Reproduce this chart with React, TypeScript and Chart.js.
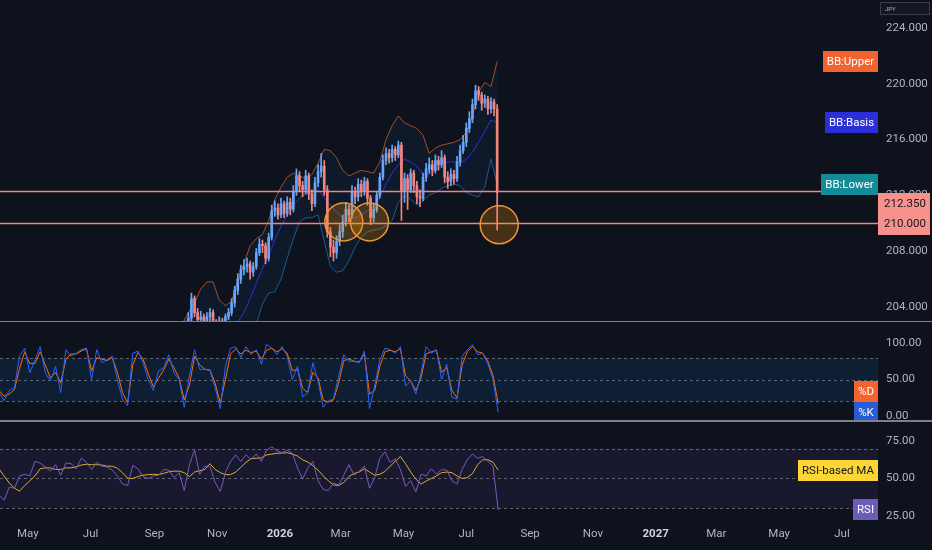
import { useEffect, useRef } from "react";
import { Chart, registerables } from "chart.js";

Chart.register(...registerables);

// ---------- data ----------
const BASE = Date.UTC(2025, 4, 1);
const dayOf = (s: string) => {
  const [y, m, d] = s.split("-").map(Number);
  return (Date.UTC(y, m - 1, d) - BASE) / 86400000;
};

const xRange = ["2025-04-04", "2027-08-05"];

const monthTickDates = [
  "2025-05-01", "2025-07-01", "2025-09-01", "2025-11-01", "2026-01-01", "2026-03-01", "2026-05-01",
  "2026-07-01", "2026-09-01", "2026-11-01", "2027-01-01", "2027-03-01", "2027-05-01", "2027-07-01",
];
const monthTickLabels = ["May", "Jul", "Sep", "Nov", "2026", "Mar", "May", "Jul", "Sep", "Nov", "2027", "Mar", "May", "Jul"];

// daily-ish candles (3-day bars)
const candleStart = "2025-10-01";
const candleStepDays = 3;
const firstOpen = 202.3;
const closes = [
  202.6, 203.2, 204.6, 203.6, 203.1, 203.3, 202.9, 203.3, 203.6, 202.9,
  202.7, 203.0, 202.8, 203.3, 203.6, 204.3, 205.2, 206.0, 206.7, 206.9,
  207.1, 206.5, 206.9, 207.9, 208.5, 208.4, 207.5, 209.0, 210.9, 211.1,
  210.6, 211.4, 210.7, 211.5, 211.0, 212.3, 213.4, 212.7, 212.4, 213.4,
  212.1, 211.4, 212.9, 213.7, 214.1, 212.4, 209.4, 208.3, 207.9, 208.7,
  209.4, 210.1, 211.0, 210.6, 212.3, 211.9, 212.8, 212.3, 213.0, 211.8,
  210.4, 211.0, 212.0, 213.3, 214.5, 215.0, 214.7, 215.3, 214.9, 215.6,
  212.3, 213.2, 212.4, 213.6, 212.7, 211.9, 211.8, 213.3, 213.9, 214.2,
  213.8, 214.5, 214.2, 214.7, 213.3, 213.0, 213.5, 213.2, 214.4, 215.2,
  215.8, 216.8, 217.5, 218.5, 219.5, 219.2, 218.6, 218.9, 218.2, 218.7,
  218.2, 212.2,
];
const highs = [
  203.0, 203.6, 205.0, 204.8, 203.9, 203.7, 203.5, 203.6, 203.9, 203.8,
  203.1, 203.3, 203.2, 203.5, 203.9, 204.6, 205.5, 206.4, 207.0, 207.4,
  207.5, 207.3, 207.2, 208.2, 208.9, 208.8, 208.6, 209.3, 211.3, 211.6,
  211.4, 211.8, 211.6, 211.9, 211.8, 212.7, 213.9, 213.7, 213.0, 213.8,
  213.6, 212.4, 213.3, 214.2, 215.0, 214.5, 212.7, 209.7, 208.8, 209.1,
  209.9, 210.6, 211.5, 211.3, 212.7, 212.6, 213.2, 213.1, 213.3, 213.2,
  212.0, 211.4, 212.3, 213.6, 214.9, 215.4, 215.3, 215.6, 215.5, 215.9,
  215.8, 213.6, 213.5, 213.9, 213.8, 213.0, 212.4, 213.6, 214.3, 214.7,
  214.5, 214.9, 214.8, 215.2, 214.9, 213.7, 213.9, 213.8, 214.8, 215.6,
  216.3, 217.2, 218.0, 218.9, 219.9, 219.8, 219.4, 219.2, 219.1, 219.0,
  218.9, 218.5,
];
const lows = [
  202.0, 202.4, 203.0, 203.3, 202.8, 202.8, 202.5, 202.7, 203.0, 202.6,
  202.4, 202.5, 202.5, 202.6, 203.1, 203.4, 204.0, 204.9, 205.7, 206.3,
  206.5, 206.0, 206.2, 206.7, 207.7, 207.9, 207.1, 207.3, 208.8, 210.5,
  210.3, 210.4, 210.4, 210.5, 210.6, 210.8, 212.0, 212.3, 211.9, 212.1,
  211.7, 210.9, 211.2, 212.6, 213.3, 212.0, 209.0, 207.6, 207.3, 207.5,
  208.4, 209.0, 209.8, 210.1, 210.4, 211.4, 211.6, 211.9, 212.0, 211.3,
  209.9, 210.1, 210.8, 211.8, 213.1, 214.2, 214.3, 214.4, 214.5, 214.7,
  210.2, 211.5, 211.0, 212.2, 212.2, 211.4, 211.2, 211.6, 213.0, 213.6,
  213.4, 213.6, 213.8, 214.0, 212.9, 212.5, 212.7, 212.8, 213.0, 214.1,
  215.0, 215.5, 216.5, 217.2, 218.2, 218.8, 218.1, 218.3, 217.8, 217.9,
  217.7, 209.5,
];

// Bollinger bands (6-day samples)
const bbStart = "2025-09-28";
const bbStepDays = 6;
const bbUpper = [
  202.8, 203.6, 204.3, 205.3, 205.8, 205.8, 204.5, 204.1, 204.4, 205.9,
  207.1, 208.4, 208.9, 209.2, 210.2, 211.7, 212.6, 213.3, 213.6, 213.4,
  213.2, 213.5, 214.3, 215.3, 215.2, 214.7, 213.8, 213.4, 213.6, 213.8,
  213.7, 213.6, 214.4, 216.0, 217.0, 217.7, 217.2, 217.0, 216.8, 216.3,
  215.0, 215.4, 215.6, 215.7, 215.8, 216.0, 216.5, 217.7, 219.4, 220.1,
  219.8, 221.6,
];
const bbBasis = [
  199.0, 199.5, 200.0, 200.8, 201.2, 201.6, 202.0, 202.3, 202.6, 202.9,
  203.6, 204.6, 205.7, 206.8, 207.7, 208.8, 209.8, 210.6, 211.3, 211.8,
  212.1, 212.3, 212.4, 211.8, 211.3, 210.8, 210.4, 210.2, 210.4, 210.6,
  210.9, 211.2, 211.9, 212.8, 213.6, 214.2, 214.6, 214.4, 214.1, 213.5,
  213.5, 213.8, 214.2, 214.4, 214.4, 214.3, 214.6, 215.1, 215.8, 216.6,
  217.4, 217.2,
];
const bbLower = [
  195.0, 195.5, 196.0, 196.5, 197.0, 197.5, 199.5, 200.5, 200.8, 200.2,
  200.5, 201.5, 202.8, 204.2, 205.0, 205.1, 206.0, 207.5, 208.9, 210.1,
  210.4, 210.4, 210.6, 208.7, 206.9, 206.5, 206.6, 207.3, 208.3, 209.0,
  209.4, 209.5, 209.6, 209.8, 210.2, 211.5, 212.0, 211.7, 211.3, 211.6,
  212.0, 212.2, 212.5, 212.7, 212.8, 212.7, 212.2, 212.0, 211.9, 212.6,
  214.6, 212.8,
];

// oscillators (5-day samples)
const oscStart = "2025-04-03";
const oscStepDays = 5;
const stochK = [
  32, 21, 35, 39, 82, 93, 59, 77, 95, 59,
  48, 68, 32, 91, 82, 86, 91, 93, 50, 91,
  73, 77, 82, 50, 23, 14, 86, 89, 73, 50,
  35, 62, 66, 84, 59, 50, 12, 55, 91, 64,
  64, 62, 39, 10, 68, 93, 95, 80, 95, 84,
  91, 71, 98, 93, 84, 95, 82, 50, 68, 26,
  32, 73, 48, 12, 21, 23, 55, 84, 75, 75,
  73, 89, 10, 41, 77, 93, 91, 86, 95, 41,
  48, 30, 59, 95, 86, 91, 50, 71, 26, 23,
  82, 91, 98, 84, 86, 71, 50, 5,
];
const stochD = [
  35, 27, 30, 36, 65, 88, 72, 72, 88, 70,
  52, 60, 45, 78, 85, 85, 89, 92, 62, 80,
  78, 76, 80, 60, 32, 18, 70, 87, 78, 58,
  40, 52, 63, 78, 66, 52, 22, 42, 82, 70,
  64, 63, 45, 18, 50, 85, 92, 85, 90, 87,
  89, 78, 90, 93, 88, 92, 86, 62, 64, 38,
  32, 60, 52, 22, 19, 22, 45, 76, 78, 75,
  74, 85, 30, 35, 68, 88, 90, 88, 92, 55,
  48, 35, 52, 85, 88, 90, 60, 66, 35, 25,
  70, 88, 95, 88, 86, 75, 55, 17,
];
const rsi = [
  38.8, 35.6, 44.2, 43.5, 51.7, 52.8, 51.7, 61.4, 60.3, 57.7,
  54.9, 59.2, 52.2, 60.3, 59.9, 56.5, 63.5, 60.8, 56.0, 60.8,
  58.2, 57.7, 55.6, 51.7, 46.3, 45.3, 58.6, 56.5, 51.3, 50.0,
  51.7, 52.2, 56.0, 55.6, 50.6, 53.9, 42.0, 59.2, 69.0, 52.8,
  58.2, 58.2, 47.4, 41.4, 53.9, 61.4, 65.7, 61.4, 65.7, 62.9,
  66.3, 61.4, 68.9, 71.1, 68.5, 67.2, 68.9, 66.8, 57.1, 49.6,
  57.1, 61.4, 48.5, 42.7, 42.0, 47.0, 45.7, 52.2, 59.2, 52.2,
  54.9, 58.2, 43.5, 50.6, 63.5, 67.8, 60.8, 62.9, 56.0, 44.8,
  48.5, 41.0, 52.8, 51.7, 56.5, 52.8, 56.0, 55.6, 48.5, 46.3,
  56.0, 62.5, 66.3, 63.5, 64.6, 61.4, 58.2, 29.1,
];
const rsiMA = [
  56.5, 51.7, 47.0, 43.5, 41.6, 45.3, 48.5, 51.7, 56.5, 57.1,
  57.1, 56.0, 56.0, 57.1, 57.1, 57.7, 59.0, 59.5, 59.2, 59.2,
  59.0, 58.2, 58.2, 56.9, 53.9, 50.2, 50.0, 51.3, 52.2, 52.6,
  52.8, 52.6, 53.4, 54.5, 54.9, 54.9, 53.9, 51.3, 54.3, 55.2,
  56.0, 59.9, 56.0, 53.9, 52.6, 52.6, 54.3, 57.5, 60.8, 63.3,
  63.5, 63.8, 65.7, 66.3, 66.8, 67.0, 67.2, 66.3, 65.0, 62.5,
  61.0, 58.6, 55.6, 51.7, 48.5, 45.7, 45.3, 47.4, 51.3, 53.4,
  54.3, 56.5, 54.3, 52.2, 52.8, 54.7, 58.2, 61.4, 64.6, 59.9,
  54.3, 49.6, 46.3, 48.3, 50.0, 51.7, 53.9, 54.3, 53.9, 51.7,
  50.0, 50.6, 53.2, 59.2, 62.5, 62.5, 60.8, 55.6,
];

const priceTicks = [204, 208, 212, 216, 220, 224];
const priceRange = [203, 226];
const stochTicks = [0, 50, 100];
const stochRange = [-5.5, 128.8];
const stochLevels = [80, 50, 20];
const rsiTicks = [25, 50, 75];
const rsiRange = [22.33, 87.67];
const rsiLevels = [70, 50, 30];

const hLevels = [212.35, 210.0];
const circleDates = ["2026-03-04", "2026-03-29", "2026-08-02"];
const circlePrices = [210.1, 210.1, 209.9];

// ---------- style ----------
const BG = "#0d121d";
const TEXT = "#b2b5be";
const FONT = 'Roboto, "Liberation Sans", sans-serif';
const UP = "#6aa4f8";
const DOWN = "#f3857f";
const SEP = "#7d808a";

const last = (a: number[]) => a[a.length - 1];
const grid = (start: string, step: number, vals: number[]) =>
  vals.map((v, i) => ({ x: dayOf(start) + i * step, y: v }));

const X_MIN = dayOf(xRange[0]);
const X_MAX = dayOf(xRange[1]);

function labelBox(ctx: CanvasRenderingContext2D, text: string, right: number, cy: number, bg: string, fg: string) {
  ctx.save();
  ctx.font = `11.5px ${FONT}`;
  const w = Math.round(ctx.measureText(text).width + 8);
  const h = 21;
  ctx.fillStyle = bg;
  ctx.fillRect(right - w, Math.round(cy - h / 2), w, h);
  ctx.fillStyle = fg;
  ctx.textAlign = "center";
  ctx.textBaseline = "middle";
  ctx.fillText(text, right - w / 2, Math.round(cy - h / 2) + h / 2 + 0.5);
  ctx.restore();
}

function yAxis(range: number[], ticks: number[], decimals: number) {
  return {
    position: "right",
    min: range[0],
    max: range[1],
    grid: { display: false, drawTicks: false },
    border: { display: false },
    ticks: {
      padding: 8,
      color: TEXT,
      font: { family: FONT, size: 11.5 },
      callback: (v: any) => Number(v).toFixed(decimals),
    },
    afterBuildTicks: (s: any) => {
      s.ticks = ticks.map((v) => ({ value: v }));
    },
    afterFit: (s: any) => {
      s.width = 54;
      s.paddingTop = 0;
      s.paddingBottom = 0;
    },
  };
}

const hiddenX = { type: "linear", min: X_MIN, max: X_MAX, display: false, offset: false, grid: { offset: false } };

const commonOpts = {
  responsive: false,
  maintainAspectRatio: false,
  animation: false,
  events: [],
  layout: { padding: 0 },
  plugins: { legend: { display: false }, tooltip: { enabled: false } },
};

function mainConfig(): any {
  const days = closes.map((_, i) => dayOf(candleStart) + i * candleStepDays);
  const opens = closes.map((_, i) => (i === 0 ? firstOpen : closes[i - 1]));
  const wicks = closes.map((c, i) => ({ x: days[i], y: [lows[i], highs[i]], up: c >= opens[i] }));
  const bodies = closes.map((c, i) => ({ x: days[i], y: [opens[i], c], up: c >= opens[i] }));
  const col = (ctx: any) => (ctx.raw && ctx.raw.up ? UP : DOWN);
  const overlay = {
    id: "mainOverlay",
    afterDatasetsDraw(chart: any) {
      const { ctx, chartArea: a, scales } = chart;
      const ys = scales.y, xs = scales.x;
      ctx.save();
      ctx.beginPath();
      ctx.rect(a.left, a.top, a.right - a.left, a.bottom - a.top);
      ctx.clip();
      ctx.strokeStyle = "#f3837d";
      ctx.lineWidth = 1.5;
      hLevels.forEach((v) => {
        const y = Math.round(ys.getPixelForValue(v)) + 0.5;
        ctx.beginPath();
        ctx.moveTo(a.left, y);
        ctx.lineTo(a.right, y);
        ctx.stroke();
      });
      circleDates.forEach((d, i) => {
        const cx = xs.getPixelForValue(dayOf(d));
        const cy = ys.getPixelForValue(circlePrices[i]);
        ctx.beginPath();
        ctx.arc(cx, cy, 19, 0, Math.PI * 2);
        ctx.fillStyle = "rgba(255,152,0,0.24)";
        ctx.fill();
        ctx.strokeStyle = "#ee9433";
        ctx.lineWidth = 1.5;
        ctx.stroke();
      });
      ctx.restore();
    },
    afterDraw(chart: any) {
      const { ctx, chartArea: a, scales } = chart;
      const ys = scales.y;
      labelBox(ctx, "BB:Upper", a.right, ys.getPixelForValue(last(bbUpper)), "#f4622f", "#ffffff");
      labelBox(ctx, "BB:Basis", a.right, ys.getPixelForValue(last(bbBasis)), "#2b2fd6", "#ffffff");
      labelBox(ctx, "BB:Lower", a.right, ys.getPixelForValue(last(bbLower)), "#138c99", "#ffffff");
      // price labels for the two horizontal levels, stacked
      const yLow = ys.getPixelForValue(hLevels[1]) + 1.5;
      const top = Math.round(yLow - 10.5 - 21);
      ctx.save();
      ctx.fillStyle = "#f7918c";
      ctx.fillRect(a.right, top, 52, 42);
      ctx.fillStyle = "#131722";
      ctx.font = `11.5px ${FONT}`;
      ctx.textAlign = "center";
      ctx.textBaseline = "middle";
      ctx.fillText(hLevels[0].toFixed(3), a.right + 27, top + 11);
      ctx.fillText(hLevels[1].toFixed(3), a.right + 27, top + 31);
      // currency tag
      ctx.strokeStyle = "#3a3e4a";
      ctx.lineWidth = 1;
      ctx.fillStyle = "#131722";
      ctx.fillRect(a.right + 2, 2, 50, 13);
      ctx.strokeRect(a.right + 2.5, 2.5, 49, 12);
      ctx.fillStyle = TEXT;
      ctx.font = `6px ${FONT}`;
      ctx.textAlign = "left";
      ctx.fillText("JPY", a.right + 7, 9);
      ctx.restore();
    },
  };
  return {
    type: "bar",
    data: {
      datasets: [
        { type: "line", data: grid(bbStart, bbStepDays, bbUpper), borderColor: "rgba(214,98,44,0.75)", borderWidth: 1, pointRadius: 0, fill: false, order: 2 },
        { type: "line", data: grid(bbStart, bbStepDays, bbBasis), borderColor: "#2b34d8", borderWidth: 1, pointRadius: 0, fill: false, order: 2 },
        { type: "line", data: grid(bbStart, bbStepDays, bbLower), borderColor: "#1f5a8e", borderWidth: 1, pointRadius: 0, fill: "-2", backgroundColor: "rgba(33,150,243,0.06)", order: 2 },
        { type: "bar", data: wicks, backgroundColor: col, barThickness: 1, grouped: false, borderWidth: 0, order: 1 },
        { type: "bar", data: bodies, backgroundColor: col, barThickness: 2, minBarLength: 1, grouped: false, borderWidth: 0, order: 0 },
      ],
    },
    options: {
      ...commonOpts,
      scales: { x: hiddenX, y: yAxis(priceRange, priceTicks, 3) },
    },
    plugins: [overlay],
  };
}

function bandPlugin(id: string, levels: number[], fill: string) {
  return {
    id,
    beforeDatasetsDraw(chart: any) {
      const { ctx, chartArea: a, scales } = chart;
      const ys = scales.y;
      const t = ys.getPixelForValue(levels[0]);
      const b = ys.getPixelForValue(levels[levels.length - 1]);
      ctx.save();
      ctx.fillStyle = fill;
      ctx.fillRect(a.left, t, a.right - a.left, b - t);
      ctx.strokeStyle = "rgba(120,123,134,0.75)";
      ctx.lineWidth = 1;
      ctx.setLineDash([3, 3]);
      levels.forEach((v) => {
        const y = Math.round(ys.getPixelForValue(v)) + 0.5;
        ctx.beginPath();
        ctx.moveTo(a.left, y);
        ctx.lineTo(a.right, y);
        ctx.stroke();
      });
      ctx.restore();
    },
  };
}

function stochConfig(): any {
  const labels = {
    id: "stochLabels",
    afterDraw(chart: any) {
      const { ctx, chartArea: a, scales } = chart;
      const ys = scales.y;
      const kc = ys.getPixelForValue(last(stochK));
      let dc = ys.getPixelForValue(last(stochD));
      if (Math.abs(dc - kc) < 21) dc = kc - 21;
      labelBox(ctx, "%D", a.right, dc, "#f4622f", "#ffffff");
      labelBox(ctx, "%K", a.right, kc, "#2a5bd6", "#ffffff");
    },
  };
  return {
    type: "line",
    data: {
      datasets: [
        { data: grid(oscStart, oscStepDays, stochK), borderColor: "#2962ff", borderWidth: 1, pointRadius: 0 },
        { data: grid(oscStart, oscStepDays, stochD), borderColor: "#ff6d00", borderWidth: 1, pointRadius: 0 },
      ],
    },
    options: {
      ...commonOpts,
      scales: { x: hiddenX, y: yAxis(stochRange, stochTicks, 2) },
    },
    plugins: [bandPlugin("stochBand", stochLevels, "rgba(33,150,243,0.1)"), labels],
  };
}

function rsiConfig(): any {
  const labels = {
    id: "rsiLabels",
    afterDraw(chart: any) {
      const { ctx, chartArea: a, scales } = chart;
      const ys = scales.y;
      ctx.save();
      ctx.fillStyle = BG;
      ctx.fillRect(a.right, a.bottom, chart.width - a.right, 10);
      ctx.beginPath();
      ctx.rect(0, 0, chart.width, a.bottom);
      ctx.clip();
      const rc = ys.getPixelForValue(last(rsi));
      let mc = ys.getPixelForValue(last(rsiMA));
      if (Math.abs(mc - rc) < 21) mc = rc - 21;
      labelBox(ctx, "RSI-based MA", a.right, mc, "#fdd535", "#131722");
      labelBox(ctx, "RSI", a.right, rc, "#6c5cb8", "#ffffff");
      ctx.restore();
    },
  };
  const monthDays = monthTickDates.map(dayOf);
  const isYear = (i: number) => /^\d{4}$/.test(monthTickLabels[i] || "");
  return {
    type: "line",
    data: {
      datasets: [
        { data: grid(oscStart, oscStepDays, rsi), borderColor: "#7e57c2", borderWidth: 1, pointRadius: 0 },
        { data: grid(oscStart, oscStepDays, rsiMA), borderColor: "#d9b02c", borderWidth: 1, pointRadius: 0 },
      ],
    },
    options: {
      ...commonOpts,
      scales: {
        x: {
          type: "linear",
          min: X_MIN,
          max: X_MAX,
          offset: false,
          grid: { display: false, drawTicks: false },
          border: { display: false },
          ticks: {
            padding: 7,
            autoSkip: false,
            maxRotation: 0,
            callback: (_v: any, i: number) => monthTickLabels[i],
            color: (c: any) => (isYear(c.index) ? "#d1d4dc" : TEXT),
            font: (c: any) => ({ family: FONT, size: 11.5, weight: isYear(c.index) ? "bold" : "normal" }),
          },
          afterBuildTicks: (s: any) => {
            s.ticks = monthDays.map((v) => ({ value: v }));
          },
          afterFit: (s: any) => {
            s.height = 30;
            s.paddingLeft = 0;
            s.paddingRight = 0;
          },
        },
        y: yAxis(rsiRange, rsiTicks, 2),
      },
    },
    plugins: [bandPlugin("rsiBand", rsiLevels, "rgba(126,87,194,0.1)"), labels],
  };
}

export default function App() {
  const mainRef = useRef<HTMLCanvasElement>(null);
  const stochRef = useRef<HTMLCanvasElement>(null);
  const rsiRef = useRef<HTMLCanvasElement>(null);

  useEffect(() => {
    document.body.style.margin = "0";
    document.body.style.background = BG;
    const charts = [
      new Chart(mainRef.current as HTMLCanvasElement, mainConfig()),
      new Chart(stochRef.current as HTMLCanvasElement, stochConfig()),
      new Chart(rsiRef.current as HTMLCanvasElement, rsiConfig()),
    ];
    return () => charts.forEach((c) => c.destroy());
  }, []);

  const abs = (top: number): any => ({ position: "absolute", left: 0, top, display: "block" });
  return (
    <div style={{ position: "relative", width: 932, height: 550, background: BG, overflow: "hidden" }}>
      <canvas ref={mainRef} width={932} height={321} style={abs(0)} />
      <div style={{ position: "absolute", left: 0, top: 321, width: 932, height: 1, background: SEP }} />
      <canvas ref={stochRef} width={932} height={98} style={abs(322)} />
      <div style={{ position: "absolute", left: 0, top: 420, width: 932, height: 2, background: SEP }} />
      <canvas ref={rsiRef} width={932} height={128} style={abs(422)} />
    </div>
  );
}
